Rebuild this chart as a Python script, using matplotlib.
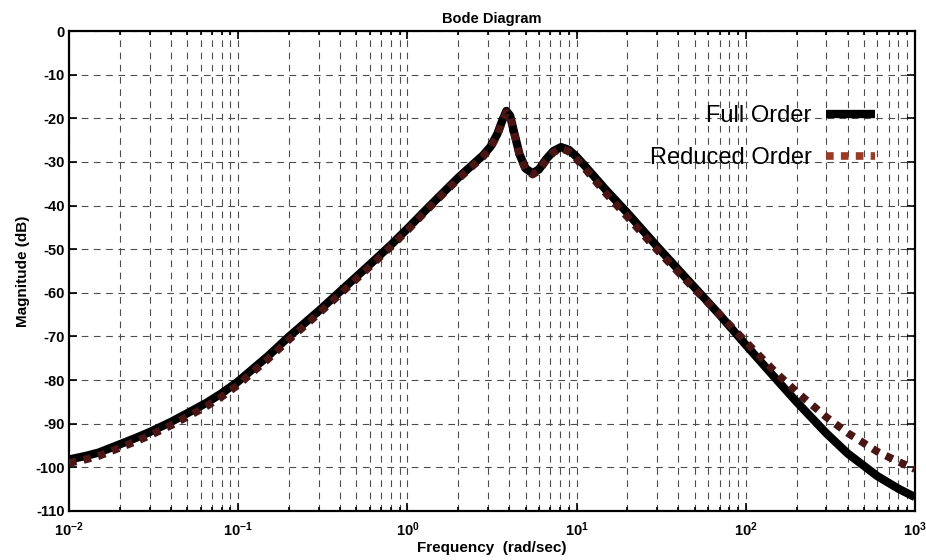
import numpy as np
import matplotlib.pyplot as plt
from matplotlib.lines import Line2D
from matplotlib.ticker import FixedLocator, FixedFormatter, LogLocator, NullFormatter

plt.rcParams['font.family'] = ['Liberation Sans', 'DejaVu Sans']
plt.rcParams['axes.unicode_minus'] = False
plt.rcParams['mathtext.fontset'] = 'custom'
plt.rcParams['mathtext.rm'] = 'Liberation Sans:bold'
plt.rcParams['mathtext.bf'] = 'Liberation Sans:bold'

# frequency grid (rad/sec) and magnitudes (dB)
freq = [0.01, 0.0125, 0.015, 0.02, 0.025, 0.03, 0.04, 0.05, 0.065, 0.08, 0.1,
        0.125, 0.15, 0.2, 0.3, 0.4, 0.6, 0.8, 1.0, 1.3, 1.7, 2.0, 2.5, 2.8,
        3.1, 3.4, 3.65, 3.85, 4.05, 4.3, 4.6, 5.0, 5.5, 6.0, 6.6, 7.3, 8.1,
        9.0, 10, 11.2, 12.5, 15, 20, 30, 40, 50, 70, 100, 150, 200, 300, 400,
        600, 800, 1000]
mag_full = [-98.2, -97.4, -96.6, -94.7, -93.2, -91.9, -89.6, -87.6, -85.2,
            -83.0, -80.3, -77.1, -74.5, -70.0, -64.1, -59.7, -53.5, -49.0,
            -45.3, -40.8, -36.3, -33.6, -30.2, -28.5, -26.5, -23.6, -20.4,
            -18.3, -19.4, -23.6, -28.2, -31.5, -32.6, -31.7, -29.4, -27.5,
            -26.6, -27.2, -28.8, -30.9, -33.0, -36.5, -41.7, -49.4, -54.7,
            -58.8, -65.0, -71.9, -79.6, -85.0, -92.2, -96.8, -102.0, -104.9,
            -106.8]
mag_red = [-99.0, -98.2, -97.4, -95.5, -94.0, -92.7, -90.4, -88.4, -86.0,
           -83.8, -81.1, -77.8, -75.2, -70.7, -64.7, -60.3, -54.0, -49.4,
           -45.7, -41.1, -36.6, -33.9, -30.5, -28.8, -26.8, -23.9, -20.7,
           -18.6, -19.6, -23.8, -28.4, -31.8, -32.9, -32.0, -29.7, -27.8,
           -26.9, -27.6, -29.3, -31.5, -33.7, -37.3, -42.6, -50.2, -55.3,
           -59.2, -64.9, -71.2, -78.2, -82.7, -88.5, -92.1, -96.4, -98.7,
           -100.4]

xticks = [1e-2, 1e-1, 1e0, 1e1, 1e2, 1e3]
xticklabels = [r'$\mathrm{10^{-2}}$', r'$\mathrm{10^{-1}}$', r'$\mathrm{10^{0}}$',
               r'$\mathrm{10^{1}}$', r'$\mathrm{10^{2}}$', r'$\mathrm{10^{3}}$']
yticks = np.arange(-110, 1, 10)

red = '#4a1515'
dots = (0, (1, 0.95))

fig = plt.figure(figsize=(9.26, 5.6), dpi=100)
ax = fig.add_axes([0.0745, 0.0875, 0.9135, 0.857])

ax.semilogx(freq, mag_full, color='black', lw=6, solid_capstyle='butt',
            solid_joinstyle='round', zorder=3)
ax.semilogx(freq, mag_red, color=red, lw=5.5, linestyle=dots,
            dash_capstyle='butt', zorder=4)

ax.set_xlim(1e-2, 1e3)
ax.set_ylim(-110, 0)

ax.xaxis.set_major_locator(FixedLocator(xticks))
ax.xaxis.set_major_formatter(FixedFormatter(xticklabels))
ax.xaxis.set_minor_locator(LogLocator(base=10, subs=np.arange(2, 10)))
ax.xaxis.set_minor_formatter(NullFormatter())
ax.set_yticks(yticks)

ax.grid(True, which='major', axis='both', color='0.3', lw=0.8, linestyle=(0, (6, 5)))
ax.grid(True, which='minor', axis='x', color='0.3', lw=0.8, linestyle=(0, (6, 5)))

ax.tick_params(which='both', direction='in', top=True, right=True, width=1.2)
ax.tick_params(which='major', length=6, labelsize=10.5, pad=3)
ax.tick_params(axis='x', which='major', pad=7)
ax.tick_params(which='minor', length=3)
for lab in ax.get_yticklabels():
    lab.set_fontweight('bold')
for s in ax.spines.values():
    s.set_linewidth(1.6)

ax.set_title('Bode Diagram', fontsize=10.5, fontweight='bold', pad=6)
ax.set_xlabel('Frequency  (rad/sec)', fontsize=11, fontweight='bold', labelpad=1)
ax.set_ylabel('Magnitude (dB)', fontsize=11, fontweight='bold', labelpad=4)

handles = [Line2D([], [], color='black', lw=6, solid_capstyle='butt'),
           Line2D([], [], color='#983a26', lw=5.5, linestyle=dots,
                  dash_capstyle='butt')]
ax.legend(handles, ['Full Order', 'Reduced Order'], loc='upper right',
          bbox_to_anchor=(0.9785, 0.89), frameon=False, markerfirst=False,
          fontsize=17, handlelength=2.1, handletextpad=0.6, labelspacing=0.85)

fig.savefig('out.png', dpi=100)
